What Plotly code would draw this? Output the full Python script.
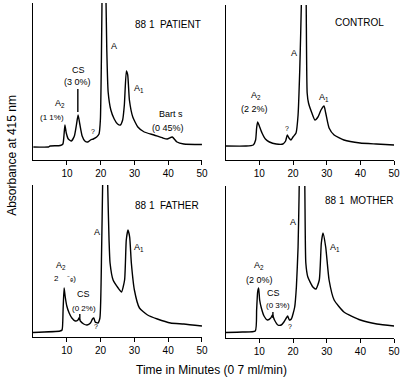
import plotly.graph_objects as go

# ---------------- data (time in minutes, relative absorbance) ----------------
patient_t = [0.0, 4.5, 5.0, 8.0, 8.8, 9.1, 9.4, 9.8, 10.4, 11.3, 12.2, 12.8, 13.3, 13.8, 14.5,
             15.3, 16.2, 17.0, 17.8, 18.8, 19.5, 19.9, 20.2, 20.5, 20.9, 21.4, 21.8, 22.2,
             23.0, 24.0, 25.0, 25.8, 26.5, 27.0, 27.6, 28.0, 28.5, 29.5, 31.0, 32.9, 35.8,
             38.4, 39.7, 41.2, 42.6, 44.6, 50.0]
patient_a = [13, 13, 14, 14.5, 16, 24, 35, 27, 21, 19, 24, 35, 45, 36, 24,
             19, 18, 20, 21, 23, 26, 40, 100, 200, 360, 200, 110, 68,
             50, 41, 36, 35, 40, 55, 89, 85, 60, 43, 33, 28, 25,
             22, 21, 23, 18, 16, 15.5]

control_t = [0.0, 6.0, 8.2, 8.9, 9.2, 9.5, 10.0, 10.8, 11.8, 13.0, 15.0, 17.0, 17.8, 18.3,
             18.8, 19.4, 20.0, 20.9, 21.5, 22.0, 22.5, 23.2, 23.9, 24.2, 24.6, 25.6, 26.5,
             27.4, 28.3, 29.2, 29.7, 30.7, 32.2, 35.1, 39.9, 44.7, 50.0]
control_a = [14, 14, 15, 20, 32, 38, 34, 27, 21, 18, 16, 16, 19, 25,
             22, 20, 23, 27, 45, 90, 160, 330, 160, 67, 57, 47, 40,
             43, 50, 54, 47, 32, 25, 20, 17, 16, 15]

father_t = [0.0, 8.0, 8.6, 8.9, 9.2, 9.5, 10.0, 10.7, 11.5, 12.5, 13.3, 13.6, 14.0, 15.0,
            16.0, 17.0, 17.6, 18.0, 18.4, 19.2, 19.8, 20.3, 20.6, 21.3, 22.1, 22.5, 22.8,
            23.7, 25.2, 26.2, 27.1, 27.6, 28.1, 28.6, 29.1, 30.0, 31.5, 33.9, 36.8, 40.7,
            44.6, 50.0]
father_a = [4.5, 6, 7, 27, 49, 41, 31, 24, 19, 16, 17, 19, 16, 13,
            12, 14, 18, 19, 15, 14, 19, 87, 152, 330, 152, 97, 74,
            57, 49, 45, 57, 97, 107, 100, 74, 47, 29, 22, 18, 14,
            13, 11]

mother_t = [0.0, 5.0, 8.8, 9.2, 9.5, 9.8, 10.1, 10.6, 11.4, 12.4, 13.4, 13.9, 14.5, 15.5,
            16.5, 17.3, 18.0, 18.4, 18.9, 19.5, 20.5, 21.0, 21.5, 21.8, 22.6, 23.5, 23.8,
            24.4, 25.9, 26.8, 27.8, 28.4, 28.9, 29.7, 30.7, 32.2, 35.1, 40.0, 44.9, 50.0]
mother_a = [5.5, 6, 7, 28, 46, 50, 38, 30, 22, 18, 20, 23, 18, 13,
            13, 16, 20, 22, 18, 19, 31, 51, 91, 143, 330, 152, 75,
            61, 51, 49, 58, 95, 105, 91, 58, 38, 26, 18, 14, 12]

x_ticks = [10, 20, 30, 40, 50]

W, H = 407, 383
FONT = "Liberation Sans, Arial, sans-serif"


def px(x, y):
    return x / W, 1 - y / H


# panel boxes in pixels: (left, right, bottom, top)
boxes = {
    "": (33.7, 205, 160, 3),
    "2": (229, 400, 160, 5),
    "3": (33.5, 205, 337, 185),
    "4": (229, 400, 338, 186),
}

fig = go.Figure()
series = [("", patient_t, patient_a), ("2", control_t, control_a),
          ("3", father_t, father_a), ("4", mother_t, mother_a)]
for k, t, a in series:
    fig.add_trace(go.Scatter(x=t, y=a, mode="lines", xaxis="x" + k, yaxis="y" + k,
                             line=dict(color="black", width=1.4, shape="spline", smoothing=0.5),
                             showlegend=False, hoverinfo="skip"))

layout = dict(width=W, height=H, margin=dict(l=0, r=0, t=0, b=0),
              paper_bgcolor="white", plot_bgcolor="white", showlegend=False,
              font=dict(family=FONT, color="black", size=10))
for k, (l, r, b, tp) in boxes.items():
    hgt = b - tp
    layout["xaxis" + k] = dict(domain=[l / W, r / W], range=[0, 50], anchor="y" + k,
                               showline=True, linecolor="black", linewidth=1.3,
                               ticks="outside", ticklen=4, tickwidth=1.2, tickcolor="black",
                               tickvals=x_ticks, ticktext=[str(v) for v in x_ticks],
                               tickfont=dict(size=10, family=FONT), showgrid=False,
                               zeroline=False, fixedrange=True)
    layout["yaxis" + k] = dict(domain=[1 - b / H, 1 - tp / H], range=[0, hgt], anchor="x" + k,
                               showline=True, linecolor="black", linewidth=1.3,
                               showticklabels=False, ticks="", showgrid=False,
                               zeroline=False, fixedrange=True)
fig.update_layout(**layout)

labels = [
    # panel 1
    (171, 25, "88 1  PATIENT", 10), (116, 46, "A", 9), (141, 89, "A<sub>1</sub>", 9),
    (80, 70, "CS", 9), (79, 82, "(3 0%)", 9), (61, 103, "A<sub>2</sub>", 9),
    (53, 117, "(1 1%)", 8), (94, 132, "?", 7), (174, 114, "Bart s", 9), (171, 128, "(0 45%)", 9),
    # panel 2
    (365, 23, "CONTROL", 10), (298, 53, "A", 9), (329, 97, "A<sub>1</sub>", 9),
    (260, 96, "A<sub>2</sub>", 9), (258, 109, "(2 2%)", 9), (291, 128, "?", 7),
    # panel 3
    (170, 205, "88 1  FATHER", 10), (98, 232, "A", 9), (141, 247, "A<sub>1</sub>", 9),
    (62, 265, "A<sub>2</sub>", 9), (66, 278, "2    \u207b\u2091)", 8),
    (85, 294, "CS", 9), (85, 308, "(0 2%)", 8), (97, 326, "?", 7),
    # panel 4
    (364, 200, "88 1  MOTHER", 10), (297, 222, "A", 9), (340, 247, "A<sub>1</sub>", 9),
    (263, 265, "A<sub>2</sub>", 9), (263, 280, "(2 0%)", 9),
    (278, 293, "CS", 9), (282, 305, "(0 3%)", 8), (294, 326, "?", 7),
]
for x, y, txt, sz in labels:
    xp, yp = px(x, y)
    fig.add_annotation(x=xp, y=yp, xref="paper", yref="paper", text=txt, showarrow=False,
                       xanchor="center", yanchor="middle", font=dict(size=sz, family=FONT))

# short marker strokes pointing at CS peaks
for x0, y0, y1 in [(79, 89, 112), (81, 314, 320), (277, 312, 318)]:
    xa, ya = px(x0, y0)
    _, yb = px(x0, y1)
    fig.add_shape(type="line", xref="paper", yref="paper", x0=xa, x1=xa, y0=ya, y1=yb,
                  line=dict(color="black", width=1.4))

# axis titles
xp, yp = px(12, 155)
fig.add_annotation(x=xp, y=yp, xref="paper", yref="paper", text="Absorbance at 415 nm",
                   textangle=-90, showarrow=False, xanchor="center", yanchor="middle",
                   font=dict(size=12, family=FONT))
xp, yp = px(215, 370)
fig.add_annotation(x=xp, y=yp, xref="paper", yref="paper", text="Time in Minutes (0 7 ml/min)",
                   showarrow=False, xanchor="center", yanchor="middle",
                   font=dict(size=12, family=FONT))

fig.write_html("out.html")
